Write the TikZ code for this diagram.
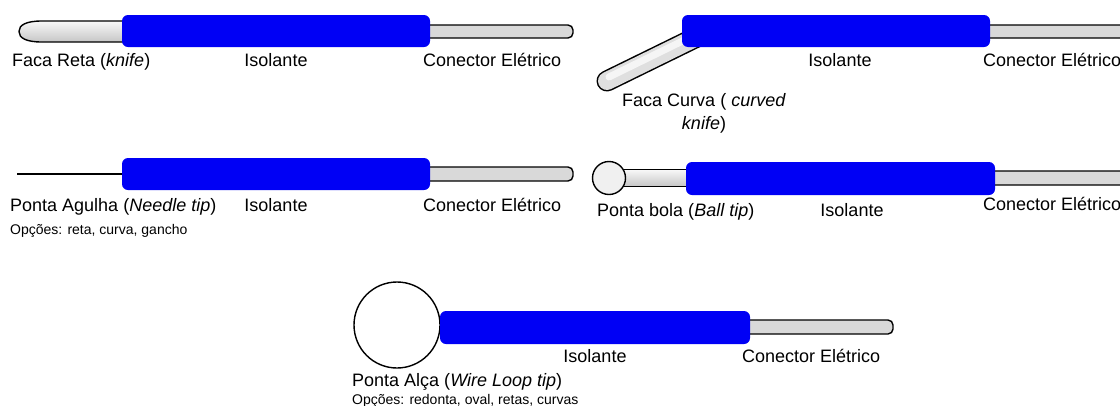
\documentclass[tikz,border=0pt]{standalone}
\usepackage{fontspec}
\setmainfont{Liberation Sans}

\definecolor{insulblue}{RGB}{0,0,245}
\definecolor{metalgray}{RGB}{217,217,217}

\tikzset{
  insulator/.style={fill=insulblue, rounded corners=6pt},
  connector/.style={draw=black, line width=1.4pt, fill=metalgray, rounded corners=5pt},
  blade/.style={draw=black, line width=1.4pt, top color=gray!5, bottom color=gray!45},
  lbl/.style={font=\fontsize{18}{21}\selectfont, inner sep=0pt},
  note/.style={font=\fontsize{14}{17}\selectfont, inner sep=0pt},
}

\begin{document}
\begin{tikzpicture}[x=1pt, y=-1pt]
    \useasboundingbox (0,0) rectangle (1120,405);
    \clip (0,0) rectangle (1120,405);

    % Straight knife
    \draw[blade]
      (130,21) -- (42,21)
      .. controls (26,21) and (19,25) .. (19,31.5)
      .. controls (19,38) and (26,42) .. (42,42) -- (130,42);
    \draw[connector] (420,25) rectangle (573,38);
    \fill[insulator] (122,15) rectangle (430,47);
    \node[lbl, anchor=base west] (knifelbl) at (12,66) {Faca Reta (\textit{knife})};
    \node[lbl, anchor=base] (knifeins) at (276,66) {Isolante};
    \node[lbl, anchor=base west] (knifecon) at (423,66) {Conector Elétrico};

    % Curved knife
    \draw[line width=21pt, line cap=round] (705,33) -- (607,81);
    \draw[line width=18pt, line cap=round, gray!25] (705,33) -- (607,81);
    \draw[line width=7pt, line cap=round, gray!8] (705,30) -- (609,77);
    \draw[connector] (980,25) rectangle (1140,38);
    \fill[insulator] (682,15) rectangle (990,47);
    \node[lbl, anchor=base] (curveins) at (840,66) {Isolante};
    \node[lbl, anchor=base west] (curvecon) at (983,66) {Conector Elétrico};
    \node[lbl, anchor=base] (curvelbl) at (704,106) {Faca Curva ( \textit{curved}};
    \node[lbl, anchor=base] (curvelblb) at (704,129) {\textit{knife})};

    % Needle tip
    \draw[line width=2.6pt] (17,174) -- (130,174);
    \draw[connector] (420,167) rectangle (573,181);
    \fill[insulator] (122,158) rectangle (430,190);
    \node[lbl, anchor=base west] (needlelbl) at (10,211) {Ponta Agulha (\textit{Needle tip})};
    \node[lbl, anchor=base] (needleins) at (276,211) {Isolante};
    \node[lbl, anchor=base west] (needlecon) at (423,211) {Conector Elétrico};
    \node[note, anchor=base west] (needleopt) at (10,234) {Opções: reta, curva, gancho};

    % Ball tip
    \draw[blade] (690,169.5) -- (618,169.5) -- (618,186.5) -- (690,186.5);
    \draw[line width=1.4pt, fill=gray!12] (609,178) circle (16.5);
    \draw[connector] (985,171) rectangle (1140,185);
    \fill[insulator] (686,162) rectangle (995,195);
    \node[lbl, anchor=base west] (balllbl) at (597,216) {Ponta bola (\textit{Ball tip})};
    \node[lbl, anchor=base] (ballins) at (852,216) {Isolante};
    \node[lbl, anchor=base west] (ballcon) at (983,210) {Conector Elétrico};

    % Wire loop tip
    \draw[line width=1.4pt, fill=white] (397,325) circle (43);
    \draw[connector] (740,320) rectangle (893,334);
    \fill[insulator] (440,311) rectangle (750,344);
    \node[lbl, anchor=base] (loopins) at (595,362) {Isolante};
    \node[lbl, anchor=base west] (loopcon) at (742,362) {Conector Elétrico};
    \node[lbl, anchor=base west] (looplbl) at (352,386) {Ponta Alça (\textit{Wire Loop tip})};
    \node[note, anchor=base west] (loopopt) at (352,404) {Opções: redonta, oval, retas, curvas};
\end{tikzpicture}
\end{document}
